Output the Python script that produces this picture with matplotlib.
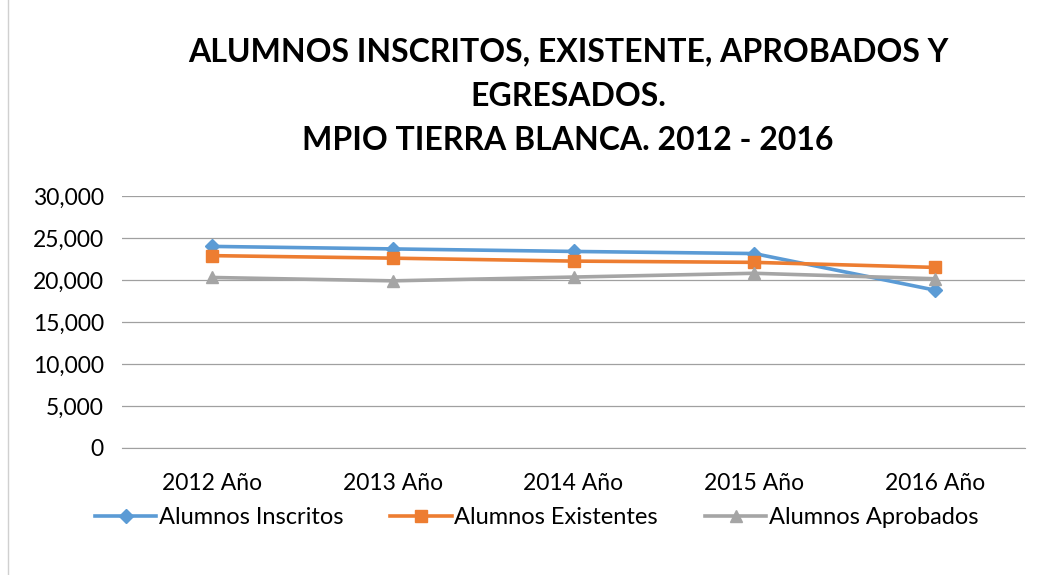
import matplotlib
matplotlib.use("Agg")
import matplotlib.pyplot as plt
from matplotlib.ticker import FuncFormatter, MultipleLocator

plt.rcParams['font.family'] = ['Lato', 'DejaVu Sans']

years = ["2012 Año", "2013 Año", "2014 Año", "2015 Año", "2016 Año"]
inscritos = [24000, 23700, 23400, 23150, 18800]
existentes = [22900, 22600, 22250, 22100, 21500]
aprobados = [20300, 19900, 20350, 20800, 20150]

fig = plt.figure(figsize=(10.42, 5.75), dpi=100)
ax = fig.add_axes([122/1042, 1-448/575, (1025-122)/1042, (448-196)/575])

x = range(len(years))
ax.plot(x, inscritos, color='#5B9BD5', lw=2.6, marker='D', ms=7, label='Alumnos Inscritos')
ax.plot(x, existentes, color='#ED7D31', lw=2.6, marker='s', ms=8, label='Alumnos Existentes')
ax.plot(x, aprobados, color='#A5A5A5', lw=2.6, marker='^', ms=9, label='Alumnos Aprobados')

ax.set_ylim(0, 30000)
ax.set_xlim(-0.5, 4.5)
ax.yaxis.set_major_locator(MultipleLocator(5000))
ax.yaxis.set_major_formatter(FuncFormatter(lambda v, p: f"{int(v):,}"))
ax.set_xticks(list(x))
ax.set_xticklabels(years)
ax.tick_params(axis='both', length=0, labelsize=16.5, colors='black')
ax.tick_params(axis='y', pad=13)
ax.tick_params(axis='x', pad=18)
ax.grid(axis='y', color='#A0A0A0', lw=0.9)
ax.set_axisbelow(True)
for s in ['top', 'right', 'left']:
    ax.spines[s].set_visible(False)
ax.spines['bottom'].set_color('#A0A0A0')

fig.text(0.545, 1-52/575, "ALUMNOS INSCRITOS, EXISTENTE, APROBADOS Y", ha='center', va='center',
         fontsize=23, fontweight='bold')
fig.text(0.545, 1-97/575, "EGRESADOS.", ha='center', va='center', fontsize=23, fontweight='bold')
fig.text(0.545, 1-140/575, "MPIO TIERRA BLANCA. 2012 - 2016", ha='center', va='center',
         fontsize=23, fontweight='bold')

fig.legend(loc='center', bbox_to_anchor=(0.515, 1-518/575), ncol=3, frameon=False,
           fontsize=17, handlelength=2.6, columnspacing=2.0, handletextpad=0.1)

border = plt.Rectangle((8/1042, -0.1), 1.2, 1.2, transform=fig.transFigure, fill=False,
                       edgecolor='#D0D0D0', lw=1)
fig.patches.append(border)

fig.savefig('out.png', dpi=100)
